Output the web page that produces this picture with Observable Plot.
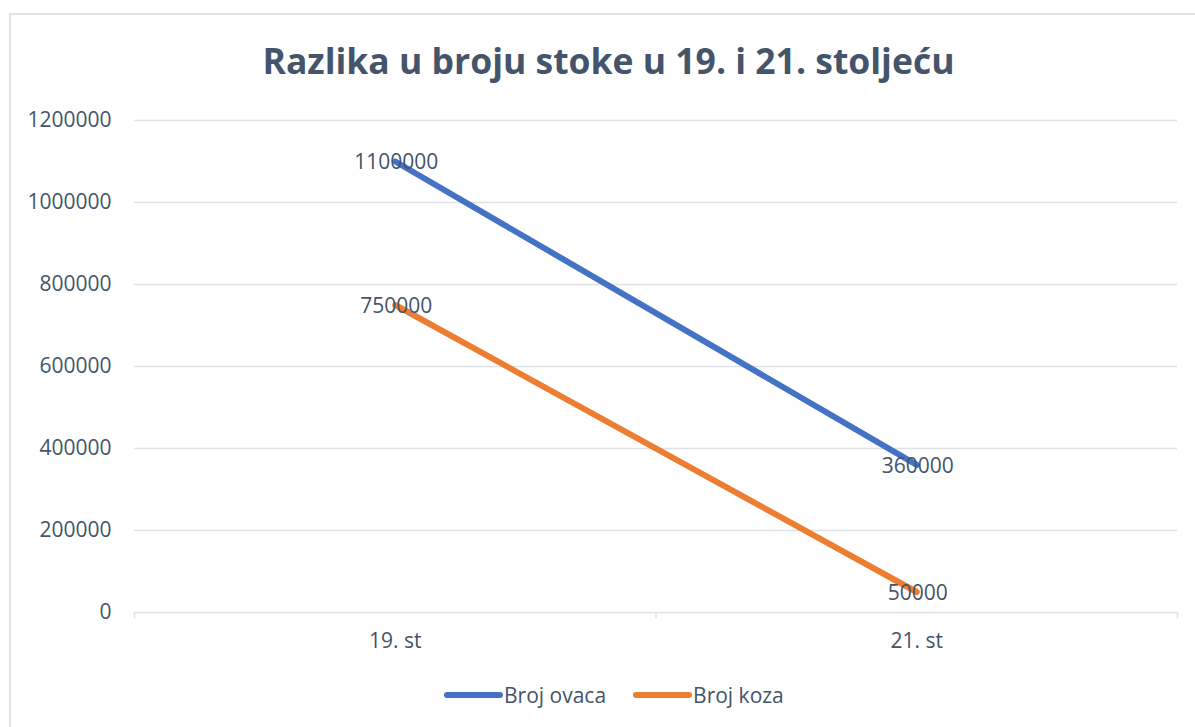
<!DOCTYPE html>
<html>
<head>
<meta charset="utf-8">
<script src="https://cdn.jsdelivr.net/npm/d3@7"></script>
<script src="https://cdn.jsdelivr.net/npm/@observablehq/plot@0.6"></script>
<style>
  body { margin: 0; background: #fff; font-family: "Open Sans", sans-serif; }
  #wrap { position: relative; width: 1195px; height: 727px; overflow: hidden; }
  #frame { position: absolute; left: 9px; top: 13px; width: 1200px; height: 730px; border: 2px solid #DEE2E8; box-sizing: border-box; }
  #title { position: absolute; left: 0; width: 1217px; top: 36px; text-align: center; font-weight: bold; font-size: 35.5px; color: #44546A; }
  #chart { position: absolute; left: 0; top: 100px; }
  #legend { position: absolute; top: 681px; left: 441px; display: flex; align-items: center; font-size: 21px; color: #44546A; }
  #legend .item { display: flex; align-items: center; margin-right: 24px; }
  #legend svg { margin-right: 1px; }
</style>
</head>
<body>
<div id="wrap">
  <div id="frame"></div>
  <div id="title">Razlika u broju stoke u 19. i 21. stoljeću</div>
  <div id="chart"></div>
  <div id="legend"></div>
</div>
<script>
const categories = ["19. st", "21. st"];
const seriesNames = ["Broj ovaca", "Broj koza"];
const ovce = [1100000, 360000];
const koze = [750000, 50000];
const colors = ["#4472C4", "#ED7D31"];
const yTicks = [0, 200000, 400000, 600000, 800000, 1000000, 1200000];

const data = [];
[ovce, koze].forEach((vals, s) => {
  vals.forEach((v, i) => data.push({series: seriesNames[s], xi: i + 0.5, value: v}));
});

const chart = Plot.plot({
  width: 1195,
  height: 560,
  marginLeft: 134,
  marginRight: 18,
  marginTop: 20,
  marginBottom: 48,
  style: {fontFamily: "Open Sans, sans-serif", fontSize: "21px", color: "#44546A", background: "transparent"},
  x: {domain: [0, categories.length], axis: null},
  y: {domain: [0, 1200000], axis: null},
  color: {domain: seriesNames, range: colors},
  marks: [
    Plot.gridY(yTicks.filter(d => d > 0), {stroke: "#DEE2E8", strokeOpacity: 1, strokeWidth: 1.5}),
    Plot.ruleY([0], {stroke: "#DEE2E8", strokeWidth: 1.5}),
    Plot.ruleX(d3.range(categories.length + 1), {y1: 0, y2: -15000, stroke: "#DEE2E8", strokeWidth: 1.5, clip: false}),
    Plot.axisY(yTicks, {tickSize: 0, tickPadding: 23, tickFormat: d => String(d), fill: "#44546A", fontSize: 21, label: null}),
    Plot.axisX(categories.map((c, i) => i + 0.5), {tickSize: 0, tickPadding: 21, tickFormat: d => categories[Math.floor(d)], fill: "#44546A", fontSize: 21, label: null}),
    Plot.line(data, {x: "xi", y: "value", z: "series", stroke: "series", strokeWidth: 6, strokeLinecap: "round", strokeLinejoin: "round"}),
    Plot.text(data, {x: "xi", y: "value", text: d => String(d.value), fill: "#44546A", fontSize: 21, dx: 1, dy: 1})
  ]
});
document.getElementById("chart").appendChild(chart);

const legend = document.getElementById("legend");
seriesNames.forEach((name, i) => {
  const item = document.createElement("div");
  item.className = "item";
  item.innerHTML = `<svg width="62" height="10"><line x1="6" y1="5" x2="59" y2="5" stroke="${colors[i]}" stroke-width="6" stroke-linecap="round"/></svg><span>${name}</span>`;
  legend.appendChild(item);
});
</script>
</body>
</html>
